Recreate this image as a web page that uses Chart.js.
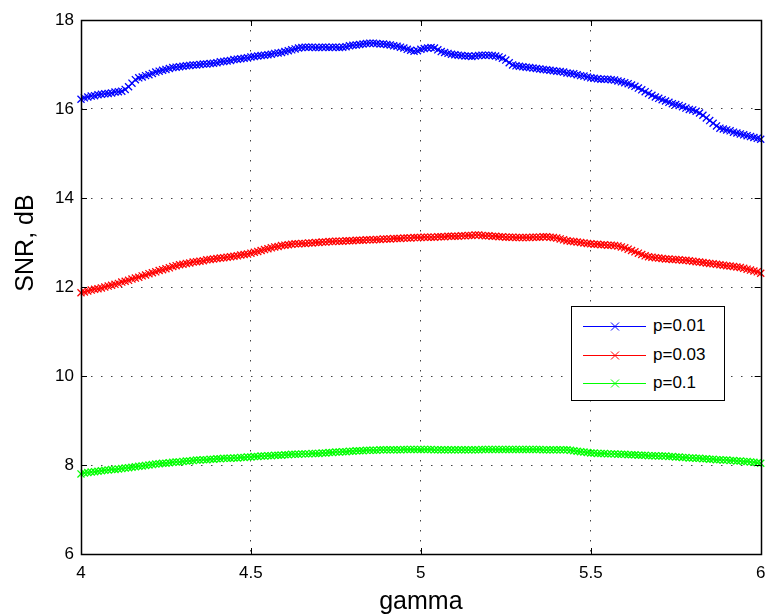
<!DOCTYPE html>
<html>
<head>
<meta charset="utf-8">
<script src="https://cdn.jsdelivr.net/npm/chart.js@4.4.1/dist/chart.umd.min.js"></script>
<style>
  body { margin: 0; background: #fff; }
  #wrap { position: relative; width: 767px; height: 616px; }
  #legend-container {
    position: absolute; left: 571px; top: 306px; width: 152px; height: 93px;
    border: 1px solid #000; background: #fff;
    font-family: "Liberation Sans", Arial, sans-serif; font-size: 17px; color: #000;
  }
  #legend-container ul { list-style: none; margin: 0; padding: 5px 0 0 0; }
</style>
</head>
<body>
<div id="wrap">
  <canvas id="snr-chart" width="767" height="616"></canvas>
  <div id="legend-container"></div>
</div>
<script>
// gamma sampled from 4 to 6, step 0.01
const gammaStart = 4;
const gammaStep = 0.01;

// SNR, dB for p=0.01
const snrP001 = [
  16.22, 16.25, 16.27, 16.29, 16.30, 16.32, 16.33, 16.34, 16.35, 16.36,
  16.38, 16.39, 16.40, 16.44, 16.50, 16.58, 16.66, 16.70, 16.72, 16.75,
  16.77, 16.80, 16.83, 16.85, 16.87, 16.89, 16.91, 16.93, 16.94, 16.95,
  16.96, 16.97, 16.98, 16.99, 16.99, 17.00, 17.01, 17.01, 17.02, 17.03,
  17.04, 17.06, 17.07, 17.08, 17.09, 17.11, 17.12, 17.13, 17.14, 17.15,
  17.17, 17.18, 17.19, 17.20, 17.21, 17.22, 17.23, 17.25, 17.26, 17.27,
  17.29, 17.31, 17.33, 17.35, 17.37, 17.38, 17.39, 17.39, 17.39, 17.38,
  17.38, 17.39, 17.39, 17.38, 17.39, 17.39, 17.38, 17.39, 17.40, 17.42,
  17.43, 17.44, 17.45, 17.46, 17.47, 17.48, 17.48, 17.47, 17.46, 17.46,
  17.45, 17.44, 17.42, 17.41, 17.39, 17.37, 17.34, 17.32, 17.30, 17.31,
  17.34, 17.36, 17.37, 17.38, 17.37, 17.33, 17.29, 17.27, 17.25, 17.23,
  17.22, 17.21, 17.20, 17.19, 17.19, 17.18, 17.19, 17.20, 17.21, 17.21,
  17.21, 17.20, 17.19, 17.17, 17.14, 17.10, 17.04, 16.99, 16.97, 16.96,
  16.95, 16.94, 16.93, 16.92, 16.91, 16.90, 16.89, 16.88, 16.87, 16.86,
  16.85, 16.84, 16.83, 16.81, 16.80, 16.79, 16.77, 16.75, 16.74, 16.72,
  16.70, 16.69, 16.68, 16.67, 16.67, 16.67, 16.66, 16.65, 16.63, 16.61,
  16.59, 16.57, 16.54, 16.51, 16.47, 16.43, 16.39, 16.35, 16.31, 16.27,
  16.24, 16.21, 16.18, 16.15, 16.12, 16.10, 16.08, 16.05, 16.02, 15.99,
  15.98, 15.95, 15.91, 15.86, 15.80, 15.74, 15.68, 15.62, 15.57, 15.55,
  15.53, 15.51, 15.48, 15.46, 15.44, 15.42, 15.40, 15.38, 15.36, 15.34,
  15.32
];

// SNR, dB for p=0.03
const snrP003 = [
  11.87, 11.89, 11.91, 11.93, 11.95, 11.96, 11.98, 12.00, 12.02, 12.04,
  12.06, 12.08, 12.11, 12.13, 12.15, 12.18, 12.20, 12.22, 12.25, 12.27,
  12.30, 12.32, 12.34, 12.37, 12.39, 12.41, 12.43, 12.46, 12.48, 12.50,
  12.51, 12.53, 12.54, 12.56, 12.57, 12.58, 12.59, 12.61, 12.62, 12.63,
  12.64, 12.65, 12.66, 12.67, 12.68, 12.69, 12.70, 12.72, 12.73, 12.74,
  12.76, 12.78, 12.80, 12.82, 12.84, 12.86, 12.88, 12.90, 12.91, 12.93,
  12.94, 12.95, 12.96, 12.97, 12.97, 12.98, 12.98, 12.99, 12.99, 13.00,
  13.00, 13.01, 13.01, 13.02, 13.02, 13.03, 13.03, 13.03, 13.04, 13.04,
  13.04, 13.05, 13.05, 13.05, 13.06, 13.06, 13.06, 13.07, 13.07, 13.08,
  13.08, 13.08, 13.09, 13.09, 13.09, 13.10, 13.10, 13.10, 13.11, 13.11,
  13.11, 13.12, 13.12, 13.12, 13.12, 13.13, 13.13, 13.13, 13.14, 13.14,
  13.14, 13.14, 13.15, 13.15, 13.16, 13.16, 13.17, 13.17, 13.16, 13.15,
  13.15, 13.14, 13.14, 13.13, 13.13, 13.12, 13.12, 13.12, 13.11, 13.11,
  13.11, 13.11, 13.11, 13.12, 13.12, 13.12, 13.13, 13.13, 13.12, 13.11,
  13.10, 13.08, 13.06, 13.04, 13.03, 13.02, 13.01, 13.00, 12.99, 12.98,
  12.97, 12.96, 12.96, 12.95, 12.95, 12.94, 12.94, 12.93, 12.92, 12.90,
  12.88, 12.85, 12.82, 12.79, 12.76, 12.73, 12.70, 12.68, 12.67, 12.66,
  12.65, 12.64, 12.63, 12.63, 12.62, 12.62, 12.61, 12.60, 12.60, 12.59,
  12.58, 12.57, 12.56, 12.55, 12.54, 12.53, 12.52, 12.51, 12.50, 12.49,
  12.48, 12.47, 12.46, 12.45, 12.44, 12.42, 12.40, 12.38, 12.36, 12.34,
  12.31
];

// SNR, dB for p=0.1
const snrP01 = [
  7.80, 7.82, 7.83, 7.84, 7.85, 7.86, 7.87, 7.88, 7.89, 7.90,
  7.90, 7.91, 7.92, 7.93, 7.94, 7.95, 7.96, 7.97, 7.98, 7.99,
  8.00, 8.01, 8.02, 8.03, 8.04, 8.04, 8.05, 8.06, 8.07, 8.07,
  8.08, 8.09, 8.09, 8.10, 8.11, 8.11, 8.12, 8.12, 8.13, 8.13,
  8.14, 8.14, 8.15, 8.15, 8.15, 8.16, 8.16, 8.17, 8.17, 8.18,
  8.18, 8.19, 8.19, 8.20, 8.20, 8.21, 8.21, 8.22, 8.22, 8.22,
  8.23, 8.23, 8.24, 8.24, 8.24, 8.25, 8.25, 8.25, 8.26, 8.26,
  8.26, 8.27, 8.27, 8.28, 8.28, 8.29, 8.29, 8.30, 8.30, 8.31,
  8.31, 8.32, 8.32, 8.32, 8.33, 8.33, 8.33, 8.33, 8.34, 8.34,
  8.34, 8.34, 8.34, 8.34, 8.34, 8.35, 8.35, 8.35, 8.35, 8.35,
  8.35, 8.35, 8.35, 8.35, 8.34, 8.34, 8.34, 8.34, 8.34, 8.34,
  8.34, 8.34, 8.34, 8.34, 8.34, 8.34, 8.34, 8.34, 8.35, 8.35,
  8.35, 8.35, 8.35, 8.35, 8.35, 8.35, 8.35, 8.35, 8.35, 8.35,
  8.35, 8.35, 8.35, 8.35, 8.35, 8.35, 8.34, 8.34, 8.34, 8.34,
  8.34, 8.34, 8.34, 8.34, 8.33, 8.32, 8.31, 8.30, 8.29, 8.28,
  8.27, 8.27, 8.26, 8.26, 8.26, 8.25, 8.25, 8.25, 8.24, 8.24,
  8.24, 8.23, 8.23, 8.23, 8.22, 8.22, 8.22, 8.21, 8.21, 8.21,
  8.20, 8.20, 8.20, 8.19, 8.19, 8.18, 8.18, 8.17, 8.17, 8.16,
  8.16, 8.15, 8.15, 8.14, 8.14, 8.13, 8.13, 8.12, 8.12, 8.11,
  8.11, 8.10, 8.10, 8.09, 8.09, 8.08, 8.08, 8.07, 8.06, 8.05,
  8.04
];

const seriesLabels = ["p=0.01", "p=0.03", "p=0.1"];
const seriesColors = ["#0000ff", "#ff0000", "#00ff00"];
const xTicks = [4, 4.5, 5, 5.5, 6];
const yTicks = [6, 8, 10, 12, 14, 16, 18];
const xTitle = "gamma";
const yTitle = "SNR, dB";

const FONT = '"Liberation Sans", Arial, Helvetica, sans-serif';

function toPoints(values) {
  return values.map((v, i) => ({ x: +(gammaStart + i * gammaStep).toFixed(2), y: v }));
}

// legend in html, like in the dashboards
const htmlLegendPlugin = {
  id: "htmlLegend",
  afterUpdate(chart, args, options) {
    const box = document.getElementById(options.containerID);
    let ul = box.querySelector("ul");
    if (!ul) {
      ul = document.createElement("ul");
      box.appendChild(ul);
    }
    while (ul.firstChild) ul.firstChild.remove();

    chart.data.datasets.forEach((ds) => {
      const li = document.createElement("li");
      li.style.display = "flex";
      li.style.alignItems = "center";
      li.style.height = "28.5px";

      const ns = "http://www.w3.org/2000/svg";
      const svg = document.createElementNS(ns, "svg");
      svg.setAttribute("width", "66");
      svg.setAttribute("height", "12");
      svg.style.marginLeft = "10px";
      svg.style.flexShrink = 0;
      const mk = (x1, y1, x2, y2) => {
        const l = document.createElementNS(ns, "line");
        l.setAttribute("x1", x1); l.setAttribute("y1", y1);
        l.setAttribute("x2", x2); l.setAttribute("y2", y2);
        l.setAttribute("stroke", ds.borderColor);
        l.setAttribute("stroke-width", "1");
        svg.appendChild(l);
      };
      mk(1, 6.5, 64, 6.5);
      mk(29, 2.5, 37, 10.5);
      mk(29, 10.5, 37, 2.5);

      const p = document.createElement("p");
      p.style.margin = 0;
      p.style.padding = 0;
      p.style.marginLeft = "5px";
      p.appendChild(document.createTextNode(ds.label));

      li.appendChild(svg);
      li.appendChild(p);
      ul.appendChild(li);
    });
  },
};

// box, inner ticks and axis titles (matlab look)
const frameAndTitlesPlugin = {
  id: "frameAndTitles",
  afterDraw(chart) {
    const { ctx, chartArea: a, scales } = chart;
    const tl = 6;
    ctx.save();
    ctx.strokeStyle = "#000";
    ctx.lineWidth = 1;
    ctx.setLineDash([]);
    ctx.beginPath();
    xTicks.forEach((v) => {
      const x = Math.round(scales.x.getPixelForValue(v)) + 0.5;
      ctx.moveTo(x, a.bottom); ctx.lineTo(x, a.bottom - tl);
      ctx.moveTo(x, a.top); ctx.lineTo(x, a.top + tl);
    });
    yTicks.forEach((v) => {
      const y = Math.round(scales.y.getPixelForValue(v)) + 0.5;
      ctx.moveTo(a.left, y); ctx.lineTo(a.left + tl, y);
      ctx.moveTo(a.right, y); ctx.lineTo(a.right - tl, y);
    });
    ctx.stroke();
    ctx.lineWidth = 1.5;
    ctx.strokeRect(Math.round(a.left) + 0.5, Math.round(a.top) + 0.5,
      Math.round(a.right - a.left), Math.round(a.bottom - a.top));

    ctx.fillStyle = "#000";
    ctx.font = "25px " + FONT;
    ctx.textAlign = "center";
    ctx.textBaseline = "middle";
    ctx.fillText(xTitle, (a.left + a.right) / 2, 602);
    ctx.translate(26, 243);
    ctx.rotate(-Math.PI / 2);
    ctx.fillText(yTitle, 0, 0);
    ctx.restore();
  },
};

const datasets = [snrP001, snrP003, snrP01].map((vals, k) => ({
  label: seriesLabels[k],
  data: toPoints(vals),
  borderColor: seriesColors[k],
  backgroundColor: seriesColors[k],
  borderWidth: 1,
  pointStyle: "crossRot",
  pointRadius: 5,
  pointBorderWidth: 1.3,
  pointHoverRadius: 5,
  tension: 0,
  clip: false,
}));

const edgeTransparent = (edges) => (ctx) =>
  edges.includes(ctx.tick && ctx.tick.value) ? "rgba(0,0,0,0)" : "#444";

new Chart(document.getElementById("snr-chart"), {
  type: "line",
  data: { datasets },
  options: {
    responsive: false,
    animation: false,
    devicePixelRatio: 1,
    layout: { padding: { left: 0, right: 6, top: 20, bottom: 0 } },
    plugins: {
      legend: { display: false },
      tooltip: { enabled: false },
      htmlLegend: { containerID: "legend-container" },
    },
    scales: {
      x: {
        type: "linear",
        min: 4,
        max: 6,
        afterBuildTicks: (scale) => { scale.ticks = xTicks.map((v) => ({ value: v })); },
        afterFit: (scale) => {
          scale.height = 62;
          scale.paddingLeft = 0;
          scale.paddingRight = 0;
        },
        ticks: {
          color: "#000", font: { family: FONT, size: 17 }, padding: 9, maxRotation: 0,
          callback: (v) => String(v),
        },
        grid: { drawTicks: false, color: edgeTransparent([4, 6]), lineWidth: 1 },
        border: { display: false, dash: [1.5, 8.5] },
      },
      y: {
        min: 6,
        max: 18,
        afterBuildTicks: (scale) => { scale.ticks = yTicks.map((v) => ({ value: v })); },
        afterFit: (scale) => {
          scale.width = 81;
          scale.paddingTop = 0;
          scale.paddingBottom = 0;
        },
        ticks: { color: "#000", font: { family: FONT, size: 17 }, padding: 7, callback: (v) => String(v) },
        grid: { drawTicks: false, color: edgeTransparent([6, 18]), lineWidth: 1 },
        border: { display: false, dash: [1.5, 8.5] },
      },
    },
  },
  plugins: [htmlLegendPlugin, frameAndTitlesPlugin],
});
</script>
</body>
</html>
